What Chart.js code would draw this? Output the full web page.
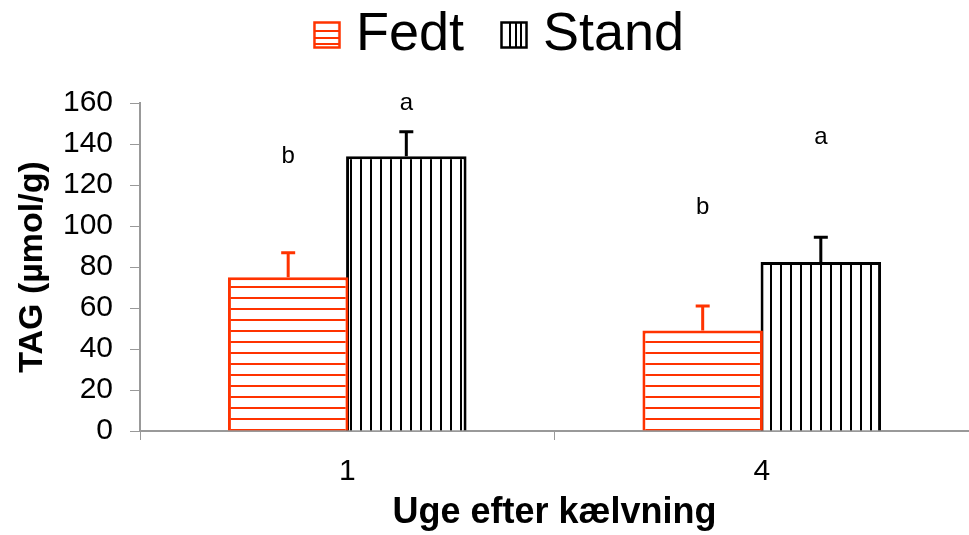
<!DOCTYPE html>
<html><head><meta charset="utf-8">
<script src="https://cdn.jsdelivr.net/npm/chart.js@4/dist/chart.umd.min.js"></script>
<style>html,body{margin:0;padding:0;background:#fff}#wrap{width:969px;height:535px}</style>
</head><body><div id="wrap"><canvas id="c"></canvas></div>
<script>
const categories = ['1', '4'];
const seriesNames = ['Fedt', 'Stand'];
const fedtValues = [75, 49];
const standValues = [134, 82.5];
const fedtErrors = [12, 12];
const standErrors = [12, 12];
const fedtLetters = ['b', 'b'];
const standLetters = ['a', 'a'];
const fedtLetterY = [134, 109];
const standLetterY = [160, 143];
const yTicks = [0, 20, 40, 60, 80, 100, 120, 140, 160];

const FONT = '"Liberation Sans", Arial, sans-serif';
const RED = '#FF3300';
function makePattern(dir, color, step) {
  const c = document.createElement('canvas');
  c.width = step; c.height = step;
  const g = c.getContext('2d');
  g.fillStyle = '#fff'; g.fillRect(0, 0, step, step);
  g.fillStyle = color;
  if (dir === 'h') g.fillRect(0, 0, step, 2); else g.fillRect(0, 0, 2, step);
  return document.getElementById('c').getContext('2d').createPattern(c, 'repeat');
}
const fedtPattern = makePattern('h', RED, 11);
const standPattern = makePattern('v', '#000', 10);

function makeLegendBox(dir, color) {
  const s = 28;
  const c = document.createElement('canvas');
  c.width = s; c.height = s;
  const g = c.getContext('2d');
  g.fillStyle = '#fff'; g.fillRect(0, 0, s, s);
  g.fillStyle = color;
  if (dir === 'h') { [9, 16, 22].forEach(p => g.fillRect(2, p, s - 4, 2)); }
  else { [9, 15, 20].forEach(p => g.fillRect(p, 2, 2, s - 4)); }
  g.strokeStyle = color; g.lineWidth = 2.5;
  g.strokeRect(1.5, 1.5, s - 3, s - 3);
  return c;
}
const legendBoxes = [makeLegendBox('h', RED), makeLegendBox('v', '#000')];

const legendTweak = {
  id: 'legendTweak',
  beforeInit(chart) {
    const lg = chart.legend;
    const origFit = lg.fit;
    lg.fit = function () { origFit.call(this); this.height = 103; };
    const origDraw = lg.draw;
    lg.draw = function () {
      const ctx = this.ctx; ctx.save(); ctx.translate(20, -40);
      origDraw.apply(this, arguments); ctx.restore();
    };
  }
};

const extras = {
  id: 'extras',
  afterDatasetsDraw(chart) {
    const ctx = chart.ctx, y = chart.scales.y;
    const errs = [fedtErrors, standErrors];
    const letters = [fedtLetters, standLetters];
    const letterY = [fedtLetterY, standLetterY];
    const colors = [RED, '#000'];
    chart.data.datasets.forEach((ds, di) => {
      const meta = chart.getDatasetMeta(di);
      meta.data.forEach((bar, i) => {
        const v = ds.data[i];
        const yTop = y.getPixelForValue(v + errs[di][i]);
        const yBase = y.getPixelForValue(v);
        ctx.save();
        ctx.strokeStyle = colors[di];
        ctx.lineWidth = 3;
        ctx.beginPath();
        ctx.moveTo(bar.x, yBase); ctx.lineTo(bar.x, yTop);
        ctx.moveTo(bar.x - 7, yTop); ctx.lineTo(bar.x + 7, yTop);
        ctx.stroke();
        ctx.fillStyle = '#000';
        ctx.font = '24px ' + FONT;
        ctx.textAlign = 'center'; ctx.textBaseline = 'middle';
        ctx.fillText(letters[di][i], bar.x, y.getPixelForValue(letterY[di][i]));
        ctx.restore();
      });
    });
  }
};

new Chart(document.getElementById('c'), {
  type: 'bar',
  data: {
    labels: categories,
    datasets: [
      { label: seriesNames[0], data: fedtValues, backgroundColor: fedtPattern, borderColor: RED, borderWidth: 3, borderSkipped: 'start' },
      { label: seriesNames[1], data: standValues, backgroundColor: standPattern, borderColor: '#000', borderWidth: 3, borderSkipped: 'start' }
    ]
  },
  options: {
    responsive: true, maintainAspectRatio: false, animation: false,
    layout: { padding: 0 },
    datasets: { bar: { categoryPercentage: 0.57, barPercentage: 1.02 } },
    plugins: {
      tooltip: { enabled: false },
      legend: {
        position: 'top',
        labels: {
          color: '#000', font: { size: 54, family: FONT }, padding: 48,
          usePointStyle: true, pointStyleWidth: 4, boxHeight: 26,
          generateLabels(chart) {
            const items = Chart.defaults.plugins.legend.labels.generateLabels(chart);
            items.forEach((it, i) => { it.pointStyle = legendBoxes[i]; });
            return items;
          }
        }
      }
    },
    scales: {
      x: {
        offset: true,
        afterFit(axis) { axis.height = 104; },
        grid: { offset: true, drawOnChartArea: false, color: '#999', tickLength: 9, lineWidth: 1 },
        border: { color: '#999', width: 2 },
        ticks: { color: '#000', font: { size: 30, family: FONT }, padding: 14 },
        title: { display: true, text: 'Uge efter kælvning', color: '#000', font: { size: 36, weight: 'bold', family: FONT }, padding: { top: 4, bottom: 0 } }
      },
      y: {
        min: 0, max: 160,
        afterFit(axis) { axis.width = 140; },
        afterBuildTicks(axis) { axis.ticks = yTicks.map(v => ({ value: v })); },
        grid: { drawOnChartArea: false, color: '#999', tickLength: 10 },
        border: { color: '#999', width: 2 },
        ticks: { color: '#000', font: { size: 30, family: FONT }, padding: 17, autoSkip: false },
        title: { display: true, text: 'TAG (µmol/g)', color: '#000', font: { size: 34, weight: 'bold', family: FONT }, padding: { top: 12, bottom: 0 } }
      }
    }
  },
  plugins: [legendTweak, extras]
});
</script></body></html>
